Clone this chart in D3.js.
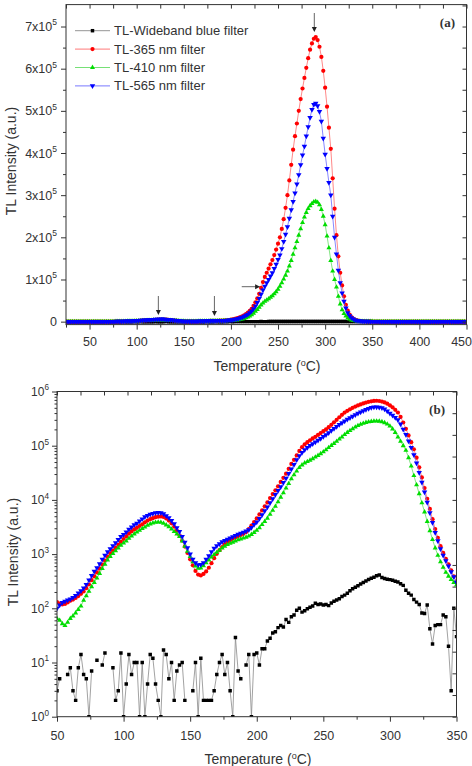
<!DOCTYPE html>
<html>
<head>
<meta charset="utf-8">
<script src="https://cdn.jsdelivr.net/npm/d3@7/dist/d3.min.js"></script>
<style>
  body { margin: 0; background: #fff; }
  svg { display: block; font-family: "Liberation Sans", Arial, sans-serif; }
</style>
</head>
<body>
<svg id="chart" width="472" height="766"></svg>
<script>
// temperature grid (°C): one reading every 2 °C
const temps = [
  26,28,30,32,34,36,38,40,42,44,
  46,48,50,52,54,56,58,60,62,64,
  66,68,70,72,74,76,78,80,82,84,
  86,88,90,92,94,96,98,100,102,104,
  106,108,110,112,114,116,118,120,122,124,
  126,128,130,132,134,136,138,140,142,144,
  146,148,150,152,154,156,158,160,162,164,
  166,168,170,172,174,176,178,180,182,184,
  186,188,190,192,194,196,198,200,202,204,
  206,208,210,212,214,216,218,220,222,224,
  226,228,230,232,234,236,238,240,242,244,
  246,248,250,252,254,256,258,260,262,264,
  266,268,270,272,274,276,278,280,282,284,
  286,288,290,292,294,296,298,300,302,304,
  306,308,310,312,314,316,318,320,322,324,
  326,328,330,332,334,336,338,340,342,344,
  346,348,350,352,354,356,358,360,362,364,
  366,368,370,372,374,376,378,380,382,384,
  386,388,390,392,394,396,398,400,402,404,
  406,408,410,412,414,416,418,420,422,424,
  426,428,430,432,434,436,438,440,442,444,
  446,448,450
]

// TL-Wideband blue filter (counts)
const wideband = [
  2,0,4,1,0,6,3,0,5,2,0,4,
  3,5,0,0,6,8,3,2,8,14,
  6,5,1,7,0,11,0,9,15,0,
  0,8,2,3,15,1,4,14,6,10,
  10,1,10,1,4,14,12,4,2,1,
  17,14,5,10,2,7,9,10,2,0,
  0,3,10,1,12,2,2,2,2,3,
  6,10,14,6,10,3,1,29,7,5,
  0,9,14,1,14,15,9,18,18,25,
  28,35,37,44,48,45,62,55,70,75,
  92,100,85,90,98,105,110,124,118,120,
  115,118,112,125,135,142,150,165,175,190,
  210,230,245,260,280,300,318,340,360,375,
  400,410,370,355,345,338,330,315,305,285,
  265,215,190,175,145,130,118,82,80,115,
  42,22,48,50,50,75,70,20,3,100,
  30,
  20,12,8,5,3,6,2,4,1,3,0,2,5,1,0,3,2,0,4,1,2,0,3,1,0,
  2,4,0,1,3,0,2,1,0,3,0,2,1,0,2,1,0,3,0,1,2,0,1,0,2
]

// TL-365 nm filter
const f365 = [
  180,172,165,160,156,150,147,143,140,137,135,133,
  130,122,118,120,128,138,145,155,168,185,
  205,235,275,330,390,460,540,640,760,890,
  1030,1160,1300,1480,1680,1900,2120,2380,2620,2850,
  3050,3300,3550,3850,4150,4400,4600,4800,4900,4950,
  4850,4550,4150,3700,3200,2700,2200,1780,1380,1050,
  800,620,490,420,405,430,480,560,680,840,
  1010,1180,1350,1520,1670,1800,1920,2040,2150,2250,
  2370,2550,2900,3350,3900,4550,5400,6400,7600,9000,
  10800,12800,15000,17800,21500,25500,30500,37500,46000,55000,
  66000,80000,94000,106000,116000,126000,136000,146000,158000,171000,
  185000,200000,220000,243000,270000,300000,335000,372000,408000,440000,
  470000,500000,528000,553000,578000,602000,625000,645000,660000,671000,
  675000,668000,652000,628000,595000,555000,510000,460000,410000,340000,
  268000,205000,155000,116000,86000,60000,40000,26000,16500,10500,
  6800,4400,2900,2000,1400,1050,820,650,500,390,
  310,
  280,255,232,212,195,180,167,155,145,136,128,121,115,110,105,100,96,92,88,85,82,79,76,73,70,
  68,66,64,62,60,58,56,54,52,50,48,47,46,45,44,43,42,41,40,39,38,37,36,35,34
]

// TL-410 nm filter
const f410 = [
  95,92,89,86,83,80,77,75,72,70,68,66,
  65,60,52,48,55,65,72,82,95,110,
  140,170,205,250,300,360,440,540,650,780,
  900,1020,1150,1300,1450,1600,1750,1950,2150,2350,
  2550,2750,2950,3150,3400,3600,3750,3850,3900,3850,
  3700,3450,3200,2900,2600,2350,2100,1750,1400,1130,
  900,720,600,545,555,610,690,780,880,980,
  1080,1180,1290,1400,1500,1580,1660,1750,1830,1900,
  1970,2050,2150,2300,2500,2750,3050,3500,4000,4600,
  5400,6400,7600,9200,11200,13500,16500,20000,24500,29000,
  34000,39500,44000,48000,51000,54000,57500,61500,66000,71000,
  77000,84000,92000,101000,110000,120000,132000,145000,160000,175000,
  190000,205000,220000,235000,248000,259000,268000,275000,280000,284000,
  285000,283000,277000,266000,250000,230000,203000,175000,145000,120000,
  100000,82000,60000,42000,28000,19000,13000,8800,6000,4000,
  2700,1850,1300,950,720,570,460,390,340,300,
  270,
  250,230,212,196,182,170,159,149,140,132,125,119,113,108,103,99,95,91,88,85,82,79,76,74,72,
  70,68,66,64,62,60,58,56,55,54,52,51,50,49,48,47,46,45,44,43,42,41,40,39,38
]

// TL-565 nm filter
const f565 = [
  150,145,140,135,130,126,122,118,114,110,106,103,
  100,115,128,135,142,148,158,172,190,210,
  235,275,330,400,480,560,660,800,950,1100,
  1250,1420,1620,1850,2100,2300,2550,2850,3150,3450,
  3700,4050,4450,4850,5150,5400,5600,5750,5850,5800,
  5550,5100,4650,4150,3600,3050,2600,2100,1650,1300,
  1000,800,690,635,640,690,800,930,1100,1280,
  1420,1550,1680,1780,1880,1980,2080,2200,2320,2420,
  2520,2650,2800,3100,3500,3900,4500,5300,6300,7400,
  8800,10500,12500,14800,17500,20800,25000,30500,37000,45000,
  55000,65000,75000,84000,92000,100000,108000,116000,126000,136000,
  147000,158000,173000,190000,207000,225000,245000,265000,285000,305000,
  326000,348000,372000,395000,416000,440000,462000,484000,503000,515000,
  518000,512000,498000,475000,435000,397000,363000,330000,300000,250000,
  200000,160000,122000,92000,68000,48000,32000,21000,14000,9000,
  5800,3800,2500,1750,1250,950,750,600,470,380,
  300,
  275,250,228,208,190,175,162,150,140,131,123,116,110,105,100,96,92,88,84,81,78,75,72,70,68,
  65,63,61,59,57,55,53,51,50,48,47,46,45,44,43,42,41,40,39,38,37,36,35,34,33
]

const seriesNames = ["TL-Wideband blue filter", "TL-365 nm filter", "TL-410 nm filter", "TL-565 nm filter"]
const linTicks = [0, 100000, 200000, 300000, 400000, 500000, 600000, 700000]
const logTicks = [1, 10, 100, 1000, 10000, 100000, 1000000]

const ink = "#333"
const svg = d3.select("#chart")

// marker look per series, same order as seriesNames
const looks = [
  { data: wideband, fill: "#000", line: "#8a8a8a", shape: d3.symbolSquare, size: 12, rot: 0 },
  { data: f365, fill: "#ff0000", line: "#ff6a6a", shape: d3.symbolCircle, size: 14, rot: 0 },
  { data: f410, fill: "#00dd00", line: "#66dd66", shape: d3.symbolTriangle, size: 11, rot: 0 },
  { data: f565, fill: "#0000ff", line: "#6a6aff", shape: d3.symbolTriangle, size: 13, rot: 180 }
]

const rowsOf = (arr) => temps.map((t, i) => ({ t: t, v: arr[i] })).filter((d) => d.v !== undefined)

const sup = (sel, base, exp, fs) => {
  sel.text(null)
  sel.append("tspan").text(base)
  sel.append("tspan").attr("dy", -fs * 0.45).attr("font-size", fs * 0.68).text(exp)
}

const styleAxis = (g, fs) => {
  g.select(".domain").remove()
  g.selectAll(".tick line").attr("stroke", ink).attr("stroke-width", 1)
  g.selectAll(".tick text").attr("fill", ink).attr("font-size", fs)
}

const drawSeries = (g, x, y, isLog) => {
  looks.forEach((s) => {
    let rows = rowsOf(s.data)
    if (isLog) rows = rows.filter((d) => d.t >= 48 && d.t <= 352)
    let line = d3.line()
      .defined((d) => !isLog || d.v > 0)
      .x((d) => x(d.t))
      .y((d) => y(d.v))
    g.append("path")
      .datum(rows)
      .attr("d", line)
      .attr("fill", "none")
      .attr("stroke", s.line)
      .attr("stroke-width", 0.8)
    g.selectAll(null)
      .data(rows.filter((d) => !isLog || d.v > 0))
      .enter()
      .append("path")
      .attr("d", d3.symbol().type(s.shape).size(s.size))
      .attr("transform", (d) => "translate(" + x(d.t) + "," + y(d.v) + ") rotate(" + s.rot + ")")
      .attr("fill", s.fill)
  })
}

const frame = (x0, y0, x1, y1) => {
  svg.append("rect")
    .attr("x", x0).attr("y", y0)
    .attr("width", x1 - x0).attr("height", y1 - y0)
    .attr("fill", "none").attr("stroke", ink).attr("stroke-width", 1)
}

const arrowDown = (g, x, y1, y2) => {
  g.append("line").attr("x1", x).attr("x2", x).attr("y1", y1).attr("y2", y2 - 4)
    .attr("stroke", "#555").attr("stroke-width", 0.9)
  g.append("path").attr("d", "M" + (x - 2.5) + "," + (y2 - 5) + "L" + (x + 2.5) + "," + (y2 - 5) + "L" + x + "," + y2 + "Z")
    .attr("fill", "#222")
}
const arrowRight = (g, x1, x2, y) => {
  g.append("line").attr("x1", x1).attr("x2", x2 - 4).attr("y1", y).attr("y2", y)
    .attr("stroke", "#555").attr("stroke-width", 0.9)
  g.append("path").attr("d", "M" + (x2 - 5) + "," + (y - 2.5) + "L" + (x2 - 5) + "," + (y + 2.5) + "L" + x2 + "," + y + "Z")
    .attr("fill", "#222")
}

const tempTitle = (x, y) => {
  let t = svg.append("text").attr("x", x).attr("y", y)
    .attr("text-anchor", "middle").attr("font-size", 14).attr("fill", ink)
  t.append("tspan").text("Temperature (")
  t.append("tspan").attr("dy", -5).attr("font-size", 9).text("o")
  t.append("tspan").attr("dy", 5).text("C)")
}

// ---------- panel (a), linear ----------
const xA = d3.scaleLinear().domain([25, 450]).range([66, 466.5])
const yA = d3.scaleLinear().domain([-7000, 752000]).range([324.6, 4.6])

svg.append("clipPath").attr("id", "clipA").append("rect")
  .attr("x", 66).attr("y", 4.6).attr("width", 400.5).attr("height", 320)

let gA = svg.append("g").attr("clip-path", "url(#clipA)")
drawSeries(gA, xA, yA, false)

// annotation arrows
arrowDown(svg, xA(123), 296, 315)
arrowDown(svg, xA(182.5), 296, 316)
arrowDown(svg, xA(288.5), 13, 32)
arrowRight(svg, xA(211.5), xA(231), 286.7)

frame(66, 4.6, 466.5, 324.6)

let axA = svg.append("g").attr("transform", "translate(0,324.6)")
  .call(d3.axisBottom(xA).tickValues(d3.range(50, 451, 50)).tickSize(5).tickPadding(8).tickFormat(d3.format("d")))
styleAxis(axA, 12.5)
// last label sits on the window edge: keep it fully inside
axA.selectAll(".tick text").filter((d) => d === 450).attr("text-anchor", "end").attr("x", 5)
let axAm = svg.append("g").attr("transform", "translate(0,324.6)")
  .call(d3.axisBottom(xA).tickValues(d3.range(25, 451, 50)).tickSize(3).tickFormat(""))
styleAxis(axAm, 12)
let axAt = svg.append("g").attr("transform", "translate(0,4.6)")
  .call(d3.axisBottom(xA).tickValues(d3.range(25, 451, 25)).tickSize(4).tickFormat(""))
styleAxis(axAt, 12)

let ayA = svg.append("g").attr("transform", "translate(66,0)")
  .call(d3.axisLeft(yA).tickValues(linTicks).tickSize(5).tickPadding(4))
styleAxis(ayA, 12.5)
ayA.selectAll(".tick text").each(function (d) {
  if (d > 0) sup(d3.select(this), (d / 1e5) + "x10", "5", 12.5)
})
let ayAm = svg.append("g").attr("transform", "translate(66,0)")
  .call(d3.axisLeft(yA).tickValues(d3.range(50000, 750000, 100000)).tickSize(3).tickFormat(""))
styleAxis(ayAm, 12)
let ayAr = svg.append("g").attr("transform", "translate(466.5,0)")
  .call(d3.axisLeft(yA).tickValues(d3.range(0, 750001, 50000)).tickSize(4).tickFormat(""))
styleAxis(ayAr, 12)

svg.append("text").attr("transform", "translate(11,161) rotate(-90)")
  .attr("text-anchor", "middle").attr("dominant-baseline", "central")
  .attr("font-size", 14).attr("fill", ink).text("TL Intensity (a.u.)")
tempTitle(267, 371)
svg.append("text").attr("x", 455).attr("y", 27).attr("text-anchor", "end")
  .attr("font-family", "'Liberation Serif', 'Times New Roman', serif").attr("font-weight", "bold")
  .attr("font-size", 13).attr("fill", ink).text("(a)")

// legend
let leg = svg.append("g")
seriesNames.forEach((name, i) => {
  let s = looks[i]
  let yy = 30.7 + i * 18.4
  leg.append("line").attr("x1", 75).attr("x2", 110).attr("y1", yy).attr("y2", yy)
    .attr("stroke", s.line).attr("stroke-width", 0.9)
  leg.append("path").attr("d", d3.symbol().type(s.shape).size(s.size))
    .attr("transform", "translate(92.5," + yy + ") rotate(" + s.rot + ")").attr("fill", s.fill)
  leg.append("text").attr("x", 114).attr("y", yy).attr("dy", "0.35em")
    .attr("font-size", 13).attr("fill", ink).text(name)
})

// ---------- panel (b), log ----------
const xB = d3.scaleLinear().domain([50, 350]).range([57, 456.5])
const yB = d3.scaleLog().domain([1, 1e6]).range([716.7, 391.5])
const xBtop = d3.scaleLinear().domain([25, 450]).range([57, 456.5])
const yBright = d3.scaleLinear().domain([0, 750000]).range([716.7, 391.5])

svg.append("clipPath").attr("id", "clipB").append("rect")
  .attr("x", 57).attr("y", 391.5).attr("width", 399.5).attr("height", 325.2)

let gB = svg.append("g").attr("clip-path", "url(#clipB)")
drawSeries(gB, xB, yB, true)

frame(57, 391.5, 456.5, 716.7)

let axB = svg.append("g").attr("transform", "translate(0,716.7)")
  .call(d3.axisBottom(xB).tickValues(d3.range(50, 351, 50)).tickSize(5).tickPadding(9).tickFormat(d3.format("d")))
styleAxis(axB, 12.5)
let axBm = svg.append("g").attr("transform", "translate(0,716.7)")
  .call(d3.axisBottom(xB).tickValues(d3.range(75, 351, 50)).tickSize(3).tickFormat(""))
styleAxis(axBm, 12)
let axBt = svg.append("g").attr("transform", "translate(0,391.5)")
  .call(d3.axisBottom(xBtop).tickValues(d3.range(25, 451, 25)).tickSize(4).tickFormat(""))
styleAxis(axBt, 12)

let minorLog = []
logTicks.slice(0, -1).forEach((p) => { for (let k = 2; k <= 9; k++) minorLog.push(p * k) })

let ayB = svg.append("g").attr("transform", "translate(57,0)")
  .call(d3.axisLeft(yB).tickValues(logTicks).tickSize(5).tickPadding(3))
styleAxis(ayB, 12)
ayB.selectAll(".tick text").each(function (d) {
  sup(d3.select(this), "10", String(Math.round(Math.log10(d))), 12)
})
let ayBm = svg.append("g").attr("transform", "translate(57,0)")
  .call(d3.axisLeft(yB).tickValues(minorLog).tickSize(2.5).tickFormat(""))
styleAxis(ayBm, 12)
let ayBr = svg.append("g").attr("transform", "translate(456.5,0)")
  .call(d3.axisLeft(yBright).tickValues(d3.range(0, 750001, 50000)).tickSize(4).tickFormat(""))
styleAxis(ayBr, 12)

svg.append("text").attr("transform", "translate(13,552) rotate(-90)")
  .attr("text-anchor", "middle").attr("dominant-baseline", "central")
  .attr("font-size", 14).attr("fill", ink).text("TL Intensity (a.u.)")
tempTitle(258, 764)
svg.append("text").attr("x", 445).attr("y", 414).attr("text-anchor", "end")
  .attr("font-family", "'Liberation Serif', 'Times New Roman', serif").attr("font-weight", "bold")
  .attr("font-size", 13).attr("fill", ink).text("(b)")
</script>
</body>
</html>
